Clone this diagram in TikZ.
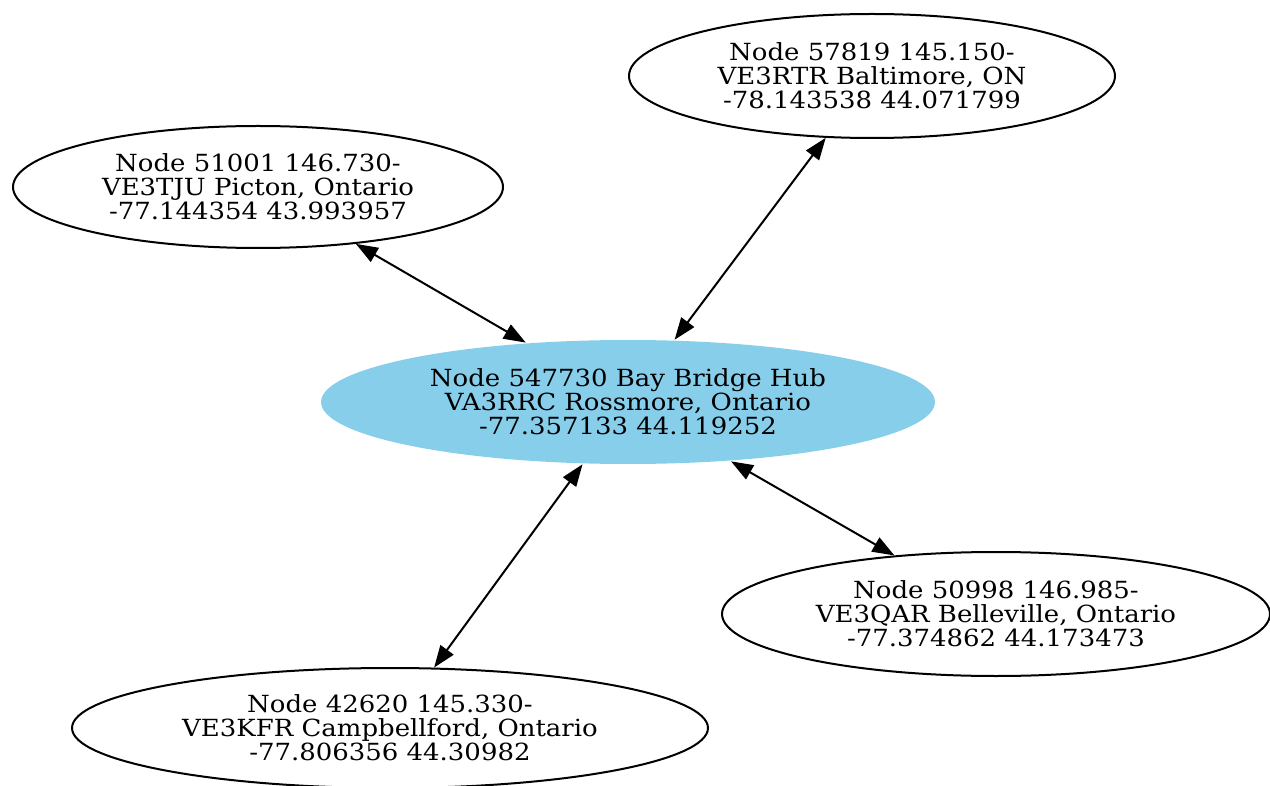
\documentclass[tikz,border=0pt]{standalone}
\usepackage{fontspec}
\setmainfont{DejaVu Serif}[FakeStretch=1.1]
\usetikzlibrary{shapes.geometric,arrows.meta}
\definecolor{hubblue}{HTML}{87CEEB}
\begin{document}
\begin{tikzpicture}[x=1pt,y=-1pt,
  gnode/.style={ellipse,draw=black,line width=2pt,inner sep=0pt,align=center,
    font=\fontsize{23.6}{24}\selectfont,text=black},
  link/.style={line width=2pt,{Triangle[length=22pt,width=16pt]}-{Triangle[length=22pt,width=16pt]}}]
\useasboundingbox (0,0) rectangle (1270,786);
\node[gnode,minimum width=486pt,minimum height=124pt] (n57819) at (872,76)
  {Node 57819 145.150-\\VE3RTR Baltimore, ON\\-78.143538 44.071799};
\node[gnode,minimum width=490pt,minimum height=122pt] (n51001) at (258,187)
  {Node 51001 146.730-\\VE3TJU Picton, Ontario\\-77.144354 43.993957};
\node[gnode,draw=none,fill=hubblue,minimum width=614pt,minimum height=124pt] (hub) at (628,402)
  {Node 547730 Bay Bridge Hub\\VA3RRC Rossmore, Ontario\\-77.357133 44.119252};
\node[gnode,minimum width=548pt,minimum height=124pt] (n50998) at (996,614)
  {Node 50998 146.985-\\VE3QAR Belleville, Ontario\\-77.374862 44.173473};
\node[gnode,minimum width=636pt,minimum height=120pt] (n42620) at (390,728)
  {Node 42620 145.330-\\VE3KFR Campbellford, Ontario\\-77.806356 44.30982};
\draw[link] (n51001) -- (hub);
\draw[link] (n57819) -- (hub);
\draw[link] (hub) -- (n42620);
\draw[link] (hub) -- (n50998);
\end{tikzpicture}
\end{document}
